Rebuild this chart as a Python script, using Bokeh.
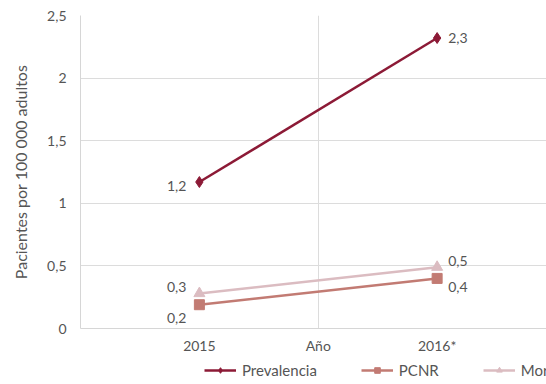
from bokeh.plotting import figure
from bokeh.layouts import column
from bokeh.models import (ColumnDataSource, FixedTicker, CustomJSTickFormatter, Legend,
                          LegendItem, Range1d)
from bokeh.core.properties import value
from bokeh.embed import file_html
from bokeh.resources import INLINE

# ---- data ----
years = ["2015", "2016*"]
x_title = "Año"
prevalencia = [1.17, 2.32]
pcnr = [0.19, 0.40]
mortalidad = [0.28, 0.49]
series_names = ["Prevalencia", "PCNR", "Mortalidad"]
y_title = "Pacientes por 100 000 adultos"

FONT = "Lato"
colors = ["#8c1a36", "#c27b73", "#dbbcc1"]
xpos = [1, 3]
xmid = 2

p = figure(width=546, height=356, output_backend="svg", toolbar_location=None,
           x_range=Range1d(0, 3.92), y_range=Range1d(0, 2.5),
           min_border_left=80, min_border_right=0, min_border_top=15, min_border_bottom=0)
p.outline_line_color = None
p.background_fill_color = "white"

# axes
p.yaxis.ticker = FixedTicker(ticks=[0, 0.5, 1, 1.5, 2, 2.5])
p.yaxis.formatter = CustomJSTickFormatter(code="return tick.toString().replace('.', ',');")
p.yaxis.axis_line_color = "#d6d6d6"
p.yaxis.major_tick_line_color = None
p.yaxis.minor_tick_line_color = None
p.yaxis.major_tick_out = 0
p.yaxis.major_tick_in = 0
p.yaxis.major_label_text_font = FONT
p.yaxis.major_label_text_font_size = "14px"
p.yaxis.major_label_text_color = "#555555"
p.yaxis.axis_label = y_title
p.yaxis.axis_label_text_font = FONT
p.yaxis.axis_label_text_font_style = "normal"
p.yaxis.axis_label_text_font_size = "16px"
p.yaxis.axis_label_text_color = "#555555"
p.yaxis.major_label_standoff = 14
p.yaxis.axis_label_standoff = 14

tick_labels = {xpos[0]: years[0], xmid: x_title, xpos[1]: years[1]}
p.xaxis.ticker = FixedTicker(ticks=[xpos[0], xmid, xpos[1]])
p.xaxis.major_label_overrides = tick_labels
p.xaxis.axis_line_color = "#d6d6d6"
p.xaxis.major_tick_line_color = None
p.xaxis.minor_tick_line_color = None
p.xaxis.major_tick_out = 0
p.xaxis.major_tick_in = 0
p.xaxis.major_label_text_font = FONT
p.xaxis.major_label_text_font_size = "14px"
p.xaxis.major_label_text_color = "#555555"
p.xaxis.major_label_standoff = 8

p.ygrid.ticker = FixedTicker(ticks=[0.5, 1, 1.5, 2, 2.5])
p.ygrid.grid_line_color = "#dcdcdc"
p.xgrid.ticker = FixedTicker(ticks=[xmid])
p.xgrid.grid_line_color = "#dcdcdc"

def fmt(v):
    return f"{v:.1f}".replace(".", ",")

# legend strip (separate figure below the chart)
leg_fig = figure(width=546, height=28, output_backend="svg", toolbar_location=None,
                 x_range=Range1d(100, 101), y_range=Range1d(100, 101),
                 x_axis_type=None, y_axis_type=None, min_border=0)
leg_fig.outline_line_color = None
leg_fig.xgrid.visible = False
leg_fig.ygrid.visible = False

items = []
all_series = [prevalencia, pcnr, mortalidad]
markers = ["diamond", "square", "triangle"]
msizes = [11, 10, 11]
# label vertical offsets (screen px) for 2015 / 2016 labels
yoffs = [(4, 0), (13, 9), (-6, -6)]
for name, vals, c, m, ms, yo in zip(series_names, all_series, colors, markers, msizes, yoffs):
    src = ColumnDataSource(dict(x=xpos, y=vals, lab=[fmt(v) for v in vals]))
    p.line("x", "y", source=src, line_color=c, line_width=2.5)
    p.scatter("x", "y", source=src, marker=m, size=ms, fill_color=c, line_color=c)
    lr = leg_fig.line("x", "y", source=src, line_color=c, line_width=2.5)
    sr = leg_fig.scatter("x", "y", source=src, marker=m, size=ms - 1, fill_color=c, line_color=c)
    items.append(LegendItem(label=name, renderers=[lr, sr]))
    left = ColumnDataSource(dict(x=xpos[:1], y=vals[:1], lab=[fmt(vals[0])]))
    right = ColumnDataSource(dict(x=xpos[1:], y=vals[1:], lab=[fmt(vals[1])]))
    p.text("x", "y", text="lab", source=left, x_offset=-13, y_offset=yo[0],
           text_align="right", text_baseline="middle", text_font=value(FONT),
           text_font_size="14px", text_color="#555555")
    p.text("x", "y", text="lab", source=right, x_offset=11, y_offset=yo[1],
           text_align="left", text_baseline="middle", text_font=value(FONT),
           text_font_size="14px", text_color="#555555")

legend = Legend(items=items, orientation="horizontal", location=(124, 5),
                border_line_color=None, background_fill_alpha=0,
                label_text_font=FONT, label_text_font_size="15px",
                label_text_color="#555555", glyph_width=32, glyph_height=14,
                spacing=44, padding=0, margin=0, label_standoff=6)
leg_fig.add_layout(legend)

layout = column(p, leg_fig, spacing=0)
open("out.html", "w").write(file_html(layout, INLINE))
